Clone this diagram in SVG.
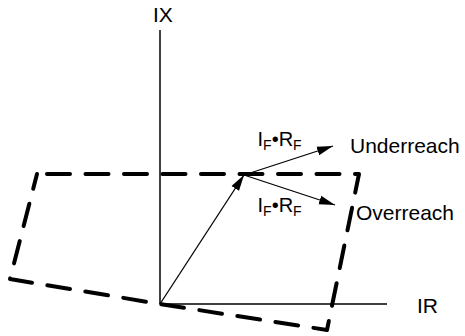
<svg xmlns="http://www.w3.org/2000/svg" width="465" height="336" viewBox="0 0 465 336">
<style>
.axis{stroke:#000;stroke-width:1.5;fill:none}
.vec{stroke:#000;stroke-width:1.3;fill:none}
.zone{stroke:#000;stroke-width:4;fill:none;stroke-dasharray:23 15.5;stroke-dashoffset:28.5;stroke-linecap:round;stroke-linejoin:round}
text{font-family:"Liberation Sans",Arial,sans-serif;fill:#000}
.lbl{font-size:21px}
.f{font-size:20px}
.sub{font-size:14px}
</style>
<defs>
<marker id="ah" markerWidth="16" markerHeight="10" refX="16" refY="5" orient="auto" markerUnits="userSpaceOnUse">
<path d="M0,0.5 L16,5 L0,9.5 z" fill="#000"/>
</marker>
</defs>
<g id="axes">
<line class="axis" x1="160" y1="30" x2="160" y2="304"/>
<line class="axis" x1="160" y1="304" x2="387" y2="304"/>
</g>
<g id="zone">
<path class="zone" d="M37,174 L359,174 L327,330 L160,304 L10,279 Z"/>
</g>
<g id="connectors">
<line class="vec" x1="160" y1="304" x2="244" y2="175" marker-end="url(#ah)"/>
<line class="vec" x1="244" y1="175" x2="333" y2="146" marker-end="url(#ah)"/>
<line class="vec" x1="244" y1="175" x2="335" y2="205" marker-end="url(#ah)"/>
</g>
<g id="labels">
<text class="lbl" x="153" y="22">IX</text>
<text class="lbl" x="417" y="313">IR</text>
<text class="lbl" x="350" y="153">Underreach</text>
<text class="lbl" x="356" y="220">Overreach</text>
<text class="f" x="257.5" y="146">I<tspan class="sub" dy="4">F</tspan><tspan dy="-4">•R</tspan><tspan class="sub" dy="4">F</tspan></text>
<text class="f" x="257.5" y="212">I<tspan class="sub" dy="4">F</tspan><tspan dy="-4">•R</tspan><tspan class="sub" dy="4">F</tspan></text>
</g>
</svg>
